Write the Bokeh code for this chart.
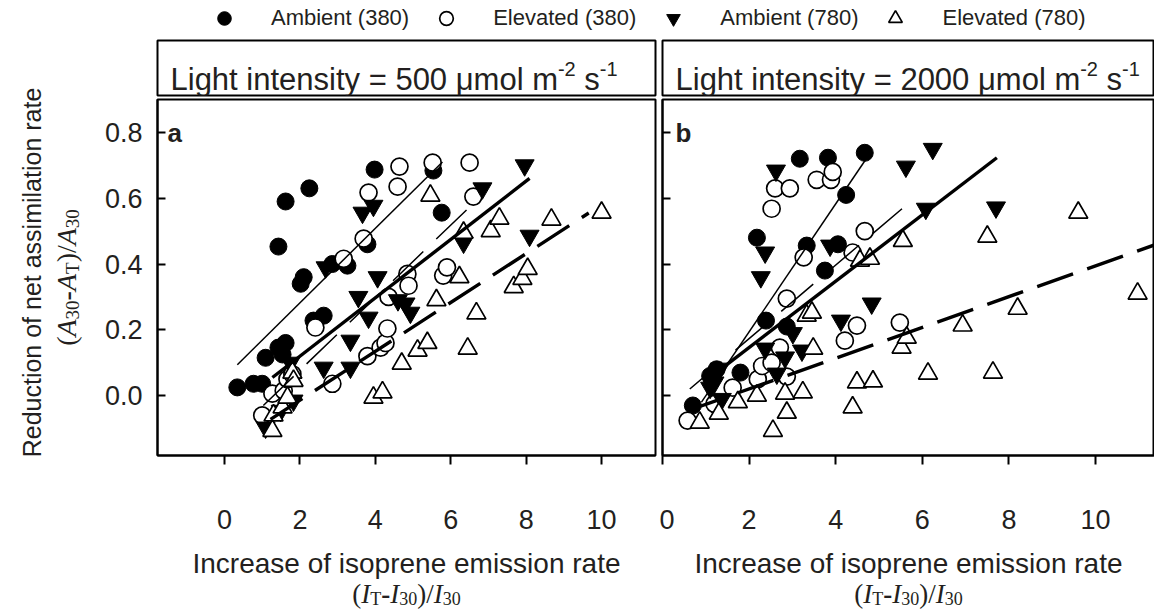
import math
from bokeh.plotting import figure
from bokeh.models import Range1d, FixedTicker, Label, Legend, LegendItem, PrintfTickFormatter
from bokeh.layouts import column, row
from bokeh.embed import file_html
from bokeh.resources import INLINE

# ---------------- data ----------------
series_names = ["Ambient (380)", "Elevated (380)", "Ambient (780)", "Elevated (780)"]
light_levels = ["500", "2000"]
panel_tags = ["a", "b"]
x_ticks = [0, 2, 4, 6, 8, 10]
y_ticks = [0.0, 0.2, 0.4, 0.6, 0.8]
x_title = "Increase of isoprene emission rate"
y_title = "Reduction of net assimilation rate"

# panel a : light 500
amb380_a_x = [0.34, 0.77, 1.0, 1.09, 1.43, 1.54, 1.62, 2.36, 2.63, 2.02, 2.1, 2.86, 3.26, 3.79, 1.43, 1.62, 2.25, 3.98, 5.54, 5.76]
amb380_a_y = [0.025, 0.036, 0.036, 0.115, 0.146, 0.125, 0.16, 0.228, 0.243, 0.34, 0.36, 0.40, 0.395, 0.46, 0.453, 0.59, 0.63, 0.687, 0.684, 0.556]
elev380_a_x = [1.0, 1.27, 1.57, 1.67, 1.8, 2.41, 2.86, 3.16, 3.69, 3.82, 3.79, 4.14, 4.27, 4.32, 4.35, 4.85, 4.88, 5.8, 5.9, 4.59, 4.64, 5.52, 6.5, 6.6]
elev380_a_y = [-0.06, 0.006, 0.015, 0.05, 0.065, 0.207, 0.036, 0.416, 0.477, 0.617, 0.12, 0.146, 0.16, 0.204, 0.3, 0.37, 0.334, 0.365, 0.39, 0.635, 0.696, 0.708, 0.708, 0.605]
amb780_a_x = [1.09, 1.49, 1.83, 1.75, 2.63, 2.68, 3.34, 3.34, 3.55, 3.82, 4.06, 4.6, 4.8, 4.93, 3.66, 3.95, 6.34, 6.84, 7.96, 8.09]
amb780_a_y = [-0.097, -0.046, -0.015, 0.1, 0.085, 0.39, 0.085, 0.167, 0.3, 0.237, 0.36, 0.29, 0.28, 0.252, 0.556, 0.577, 0.465, 0.63, 0.70, 0.486]
elev780_a_x = [1.27, 1.3, 1.54, 1.67, 1.8, 1.83, 3.95, 4.19, 4.7, 5.12, 5.38, 5.46, 5.62, 6.23, 6.34, 6.45, 6.68, 7.06, 7.29, 7.67, 7.9, 8.04, 8.67, 10.0]
elev780_a_y = [-0.107, -0.06, -0.036, -0.006, 0.07, 0.045, -0.006, 0.01, 0.097, 0.137, 0.16, 0.608, 0.29, 0.36, 0.495, 0.143, 0.25, 0.5, 0.538, 0.33, 0.355, 0.385, 0.535, 0.556]

# panel b : light 2000
amb380_b_x = [0.7, 1.1, 1.25, 1.8, 2.39, 2.87, 2.18, 3.17, 3.33, 3.75, 3.82, 4.05, 4.24, 4.67]
amb380_b_y = [-0.03, 0.06, 0.08, 0.07, 0.228, 0.21, 0.48, 0.72, 0.456, 0.38, 0.723, 0.46, 0.61, 0.738]
elev380_b_x = [0.58, 1.2, 1.62, 2.2, 2.3, 2.52, 2.71, 2.87, 2.87, 3.26, 4.21, 4.39, 4.49, 4.67, 5.48, 2.52, 2.6, 2.94, 3.56, 3.89, 3.93]
elev380_b_y = [-0.076, -0.025, 0.024, 0.05, 0.09, 0.1, 0.146, 0.058, 0.295, 0.42, 0.167, 0.435, 0.213, 0.5, 0.222, 0.568, 0.63, 0.63, 0.656, 0.656, 0.68]
amb780_b_x = [1.1, 1.2, 1.32, 1.37, 2.37, 2.64, 2.83, 3.01, 3.22, 2.27, 2.37, 2.62, 3.87, 4.12, 4.83, 5.62, 6.08, 6.24, 7.7]
amb780_b_y = [0.024, 0.04, 0.082, -0.01, 0.143, 0.067, 0.116, 0.19, 0.137, 0.36, 0.435, 0.684, 0.456, 0.228, 0.28, 0.696, 0.568, 0.75, 0.572]
elev780_b_x = [0.86, 1.3, 1.74, 2.18, 2.55, 2.83, 2.87, 3.24, 3.33, 3.45, 3.48, 4.39, 4.49, 4.56, 4.79, 4.86, 5.52, 5.55, 5.64, 6.13, 6.93, 7.5, 7.63, 8.2, 9.6, 10.97]
elev780_b_y = [-0.082, -0.055, -0.02, 0.0, -0.107, 0.006, -0.052, 0.01, 0.243, 0.252, 0.143, -0.036, 0.04, 0.41, 0.416, 0.043, 0.146, 0.47, 0.176, 0.067, 0.213, 0.483, 0.07, 0.264, 0.556, 0.31]

# regression lines (end points), order = series_names
fit_a_x0 = [0.34, 1.03, 1.27, 1.22]
fit_a_y0 = [0.094, -0.03, 0.055, -0.072]
fit_a_x1 = [5.78, 6.47, 8.09, 9.66]
fit_a_y1 = [0.71, 0.57, 0.66, 0.555]
fit_b_x0 = [0.9, 0.63, 0.95, 0.58]
fit_b_y0 = [-0.02, 0.02, 0.04, -0.046]
fit_b_x1 = [4.72, 5.53, 7.72, 11.36]
fit_b_y1 = [0.723, 0.568, 0.723, 0.458]

# ---------------- styling ----------------
TXT = "#231f20"
SANS = "Liberation Sans"
SERIF = "Liberation Serif"
Y_LO, Y_HI = -0.182, 0.9

marker_styles = [
    dict(marker="circle", size=17, fill_color="black", line_color="black", line_width=1),
    dict(marker="circle", size=17, fill_color="white", line_color="black", line_width=1.7),
    dict(marker="inverted_triangle", size=19, fill_color="black", line_color="black", line_width=1),
    dict(marker="triangle", size=19, fill_color="white", line_color="black", line_width=1.7),
]
fit_styles = [
    dict(line_width=1.5),
    dict(line_width=1.5, line_dash="42 18"),
    dict(line_width=3.4),
    dict(line_width=3.4, line_dash="38 15"),
]

ARIAL = {" ": 278, "(": 333, ")": 333, "-": 333, ".": 278, "/": 278, "=": 584, "A": 667, "E": 667,
         "I": 278, "L": 556, "R": 722, "T": 611, "a": 556, "b": 556, "c": 500, "d": 556, "e": 556,
         "f": 278, "g": 556, "h": 556, "i": 222, "l": 222, "m": 833, "n": 556, "o": 556, "p": 556,
         "r": 333, "s": 500, "t": 278, "u": 556, "v": 500, "y": 500, "μ": 576}
for _d in "0123456789":
    ARIAL[_d] = 556
TIMES_R = {"(": 333, ")": 333, "-": 333, "/": 278, "T": 611}
for _d in "0123456789":
    TIMES_R[_d] = 500
TIMES_I = {"A": 611, "I": 333, "T": 556}


def text_width(s, table, size):
    return sum(table.get(c, 500) for c in s) * size / 1000.0


def rich(p, pieces, x0, y0, vertical=False):
    """Lay out text pieces one after another; figure ranges are in px of its frame."""
    off = 0.0
    for t, font, style, size, table, dy in pieces:
        stripped = t.lstrip(" ")
        lead = text_width(t[:len(t) - len(stripped)], table, size)
        kw = dict(text=stripped, text_font=font, text_font_style=style,
                  text_font_size=f"{size}px", text_color=TXT, text_align="left",
                  text_baseline="alphabetic")
        if vertical:
            kw.update(angle=math.pi / 2, x=x0 + dy, y=y0 + off + lead)
        else:
            kw.update(x=x0 + off + lead, y=y0 + dy)
        p.add_layout(Label(**kw))
        off += text_width(t, table, size)


def pieces_width(pieces):
    return sum(text_width(t, tb, s) for t, f, st, s, tb, dy in pieces)


XM, XS = 27, 18
x_formula = [("(", SERIF, "normal", XM, TIMES_R, 0), ("I", SERIF, "italic", XM, TIMES_I, 0),
             ("T", SERIF, "normal", XS, TIMES_R, -5), ("-", SERIF, "bold", XM, TIMES_R, 0),
             ("I", SERIF, "italic", XM, TIMES_I, 0), ("30", SERIF, "normal", XS, TIMES_R, -5),
             (")/", SERIF, "normal", XM, TIMES_R, 0), ("I", SERIF, "italic", XM, TIMES_I, 0),
             ("30", SERIF, "normal", XS, TIMES_R, -5)]
YM, YS = 28, 19
y_formula = [("(", SERIF, "normal", YM, TIMES_R, 0), ("A", SERIF, "italic", YM, TIMES_I, 0),
             ("30", SERIF, "normal", YS, TIMES_R, 6), ("-", SERIF, "bold", YM, TIMES_R, 0),
             ("A", SERIF, "italic", YM, TIMES_I, 0), ("T", SERIF, "normal", YS, TIMES_R, 6),
             (")/", SERIF, "normal", YM, TIMES_R, 0), ("A", SERIF, "italic", YM, TIMES_I, 0),
             ("30", SERIF, "normal", YS, TIMES_R, 6)]


def blank_fig(width, height, left=0, right=0, top=0, bottom=0, outline=None):
    fw, fh = width - left - right, height - top - bottom
    f = figure(width=width, height=height, x_range=Range1d(0, fw), y_range=Range1d(0, fh),
               x_axis_location=None, y_axis_location=None, toolbar_location=None,
               output_backend="svg", title=None, min_border_left=left, min_border_right=right,
               min_border_top=top, min_border_bottom=bottom)
    f.grid.visible = False
    f.outline_line_color = outline
    if outline:
        f.outline_line_width = 2
    return f


# ---- geometry (px) ----
LEFT_W = 90            # column holding the rotated y title
PA_W, PB_W = 569, 495  # panel figure widths
PANEL_H = 446          # frame 99..455 in page coordinates
FORM_H = 67


def make_panel(xr, width, left, right, pts, fits, tag, first):
    p = figure(width=width, height=PANEL_H, x_range=Range1d(*xr), y_range=Range1d(Y_LO, Y_HI),
               output_backend="svg", toolbar_location=None, title=None,
               min_border_left=left, min_border_right=right, min_border_top=2, min_border_bottom=PANEL_H - 358)
    p.grid.visible = False
    p.outline_line_color = "black"
    p.outline_line_width = 2
    xa = p.xaxis[0]
    xa.ticker = FixedTicker(ticks=x_ticks, minor_ticks=[])
    xa.major_tick_out = 9
    xa.major_tick_in = 0
    xa.major_tick_line_width = 2
    xa.axis_line_width = 2
    xa.major_label_standoff = 45
    xa.major_label_text_font = SANS
    xa.major_label_text_font_size = "27px"
    xa.major_label_text_color = TXT
    ya = p.yaxis[0]
    ya.ticker = FixedTicker(ticks=y_ticks, minor_ticks=[])
    ya.major_tick_in = 8
    ya.major_tick_out = 0
    ya.major_tick_line_width = 2
    ya.axis_line_width = 2
    if first:
        ya.formatter = PrintfTickFormatter(format="%.1f")
        ya.major_label_standoff = 15
        ya.major_label_text_font = SANS
        ya.major_label_text_font_size = "27px"
        ya.major_label_text_color = TXT
    else:
        ya.major_label_overrides = {t: "" for t in y_ticks}
        ya.major_label_standoff = 0
        ya.major_label_text_font_size = "0px"

    for (xs, ys), st in zip(pts, marker_styles):
        p.scatter(x=xs, y=ys, **st)
    x0s, y0s, x1s, y1s = fits
    for i, st in enumerate(fit_styles):
        p.line(x=[x0s[i], x1s[i]], y=[y0s[i], y1s[i]], line_color="black", **st)

    frame_w = width - left - right
    px_x = (xr[1] - xr[0]) / frame_w
    px_y = (Y_HI - Y_LO) / 356.0
    dx = 10 if first else 13
    p.add_layout(Label(x=xr[0] + dx * px_x, y=Y_HI - 33 * px_y, text=tag,
                       text_font=SANS, text_font_style="bold", text_font_size="26px",
                       text_color=TXT, text_baseline="alphabetic"))
    return p


def make_header(width, left, right, level):
    h = blank_fig(width, 61, left=left, right=right, top=4, bottom=2, outline="black")
    HM, HS = 31, 20
    pieces = [(f"Light intensity = {level} μmol m", SANS, "normal", HM, ARIAL, 0),
              ("-2", SANS, "normal", HS, ARIAL, 11),
              (" s", SANS, "normal", HM, ARIAL, 0),
              ("-1", SANS, "normal", HS, ARIAL, 11)]
    rich(h, pieces, 13, 16)
    return h


def make_xtitle(width, center_px):
    f = blank_fig(width, FORM_H)
    f.add_layout(Label(x=center_px, y=47, text=x_title, text_font=SANS,
                       text_font_size="28px", text_color=TXT, text_align="center",
                       text_baseline="alphabetic"))
    rich(f, x_formula, center_px - pieces_width(x_formula) / 2, 17)
    return f


XR_A = (-1.777, 11.43)
XR_B = (0.0, 11.36)

pa = make_panel(XR_A, PA_W, 157 - LEFT_W, 4,
                [(amb380_a_x, amb380_a_y), (elev380_a_x, elev380_a_y), (amb780_a_x, amb780_a_y), (elev780_a_x, elev780_a_y)],
                (fit_a_x0, fit_a_y0, fit_a_x1, fit_a_y1), panel_tags[0], True)
pb = make_panel(XR_B, PB_W, 3, 0,
                [(amb380_b_x, amb380_b_y), (elev380_b_x, elev380_b_y), (amb780_b_x, amb780_b_y), (elev780_b_x, elev780_b_y)],
                (fit_b_x0, fit_b_y0, fit_b_x1, fit_b_y1), panel_tags[1], False)

ha = make_header(PA_W, 157 - LEFT_W, 4, light_levels[0])
hb = make_header(PB_W, 3, 0, light_levels[1])

fa = make_xtitle(PA_W, 406 - LEFT_W)
fb = make_xtitle(PB_W, 908 - 659)

# left column with the rotated y title (page y 36..610)
LEFT_H = 610 - 36
yl = blank_fig(LEFT_W, LEFT_H)
yl.add_layout(Label(x=31, y=610 - 272, text=y_title, angle=math.pi / 2,
                    text_font=SANS, text_font_size="25px", text_color=TXT, text_align="center",
                    text_baseline="middle"))
rich(yl, y_formula, 66, (610 - 277) - pieces_width(y_formula) / 2, vertical=True)

# legend strip (proxy renderers: one real point each, outside the strip's view)
lf = figure(width=1154, height=36, x_range=Range1d(100, 101), y_range=Range1d(100, 101),
            x_axis_location=None, y_axis_location=None, toolbar_location=None,
            output_backend="svg", title=None, min_border=0, outline_line_color=None)
lf.grid.visible = False
items = []
proxy_pts = [(amb380_a_x, amb380_a_y), (elev380_a_x, elev380_a_y), (amb780_a_x, amb780_a_y), (elev780_a_x, elev780_a_y)]
for name, st, (xs, ys) in zip(series_names, marker_styles, proxy_pts):
    r = lf.scatter(x=xs[:1], y=ys[:1], **st)
    items.append(LegendItem(label=name, renderers=[r]))
legend = Legend(items=items, orientation="horizontal", location=(207, 1), padding=0, margin=0,
                spacing=20, label_standoff=30, glyph_width=34, glyph_height=34,
                label_text_font=SANS, label_text_font_size="22px", label_text_color=TXT,
                border_line_color=None, background_fill_alpha=0)
lf.add_layout(legend)

right_col = column(row(ha, hb), row(pa, pb), row(fa, fb))
layout = column(lf, row(yl, right_col))
open("out.html", "w").write(file_html(layout, INLINE))
